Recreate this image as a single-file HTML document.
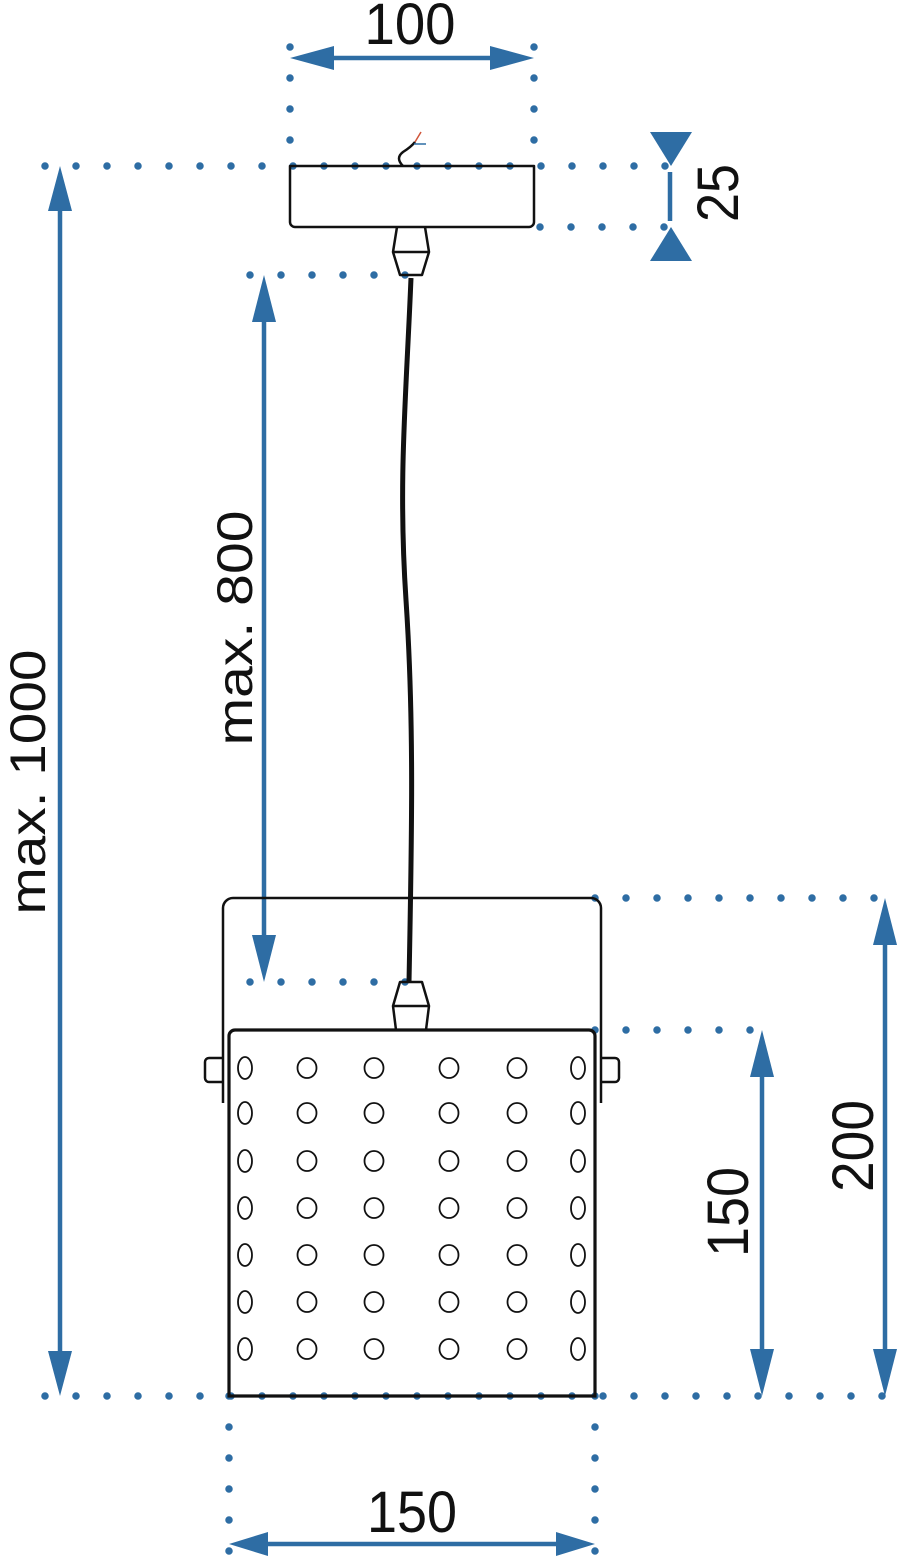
<!DOCTYPE html>
<html><head><meta charset="utf-8"><style>html,body{margin:0;padding:0;background:#fff}svg{display:block}</style></head>
<body>
<svg width="900" height="1568" viewBox="0 0 900 1568" xmlns="http://www.w3.org/2000/svg" font-family="Liberation Sans, sans-serif">
<defs>
<g id="h"><ellipse rx="9.5" ry="10" fill="none" stroke="#111" stroke-width="1.8"/></g>
<g id="e"><ellipse rx="7" ry="11" fill="none" stroke="#111" stroke-width="1.8"/></g>
</defs>
<g stroke="#2e6da4" stroke-width="7.5" stroke-linecap="round" stroke-dasharray="0 31" fill="none">
<line x1="290" y1="47" x2="290" y2="166"/>
<line x1="534" y1="47" x2="534" y2="166"/>
<line x1="45" y1="166" x2="670" y2="166"/>
<line x1="540" y1="227" x2="670" y2="227"/>
<line x1="250" y1="275" x2="411" y2="275"/>
<line x1="250" y1="982" x2="411" y2="982"/>
<line x1="595" y1="898" x2="890" y2="898"/>
<line x1="595" y1="1030" x2="770" y2="1030"/>
<line x1="45" y1="1396" x2="890" y2="1396"/>
<line x1="229" y1="1396" x2="229" y2="1568"/>
<line x1="595" y1="1396" x2="595" y2="1568"/>
</g>
<g stroke="#2e6da4" stroke-width="4.5" fill="#2e6da4">
<line x1="320" y1="58" x2="505" y2="58"/>
<polygon points="290,58 334,46 334,70" stroke="none"/>
<polygon points="534,58 490,46 490,70" stroke="none"/>
<line x1="258" y1="1544" x2="565" y2="1544"/>
<polygon points="229,1544 268,1532 268,1556" stroke="none"/>
<polygon points="595,1544 556,1532 556,1556" stroke="none"/>
<line x1="670" y1="172" x2="670" y2="221"/>
<polygon points="650,132 692,132 671,166" stroke="none"/>
<polygon points="650,261 692,261 671,227" stroke="none"/>
<line x1="60" y1="200" x2="60" y2="1362"/>
<polygon points="60,166 48,211 72,211" stroke="none"/>
<polygon points="60,1396 48,1351 72,1351" stroke="none"/>
<line x1="264" y1="305" x2="264" y2="950"/>
<polygon points="264,275 252,322 276,322" stroke="none"/>
<polygon points="264,982 252,935 276,935" stroke="none"/>
<line x1="885" y1="930" x2="885" y2="1365"/>
<polygon points="885,898 873,945 897,945" stroke="none"/>
<polygon points="885,1396 873,1349 897,1349" stroke="none"/>
<line x1="762" y1="1060" x2="762" y2="1365"/>
<polygon points="762,1030 750,1077 774,1077" stroke="none"/>
<polygon points="762,1396 750,1349 774,1349" stroke="none"/>
</g>
<g fill="#111" font-size="58">
<text x="410" y="44" text-anchor="middle" textLength="91" lengthAdjust="spacingAndGlyphs">100</text>
<text x="412" y="1532" text-anchor="middle" textLength="90" lengthAdjust="spacingAndGlyphs">150</text>
<text transform="translate(738,193) rotate(-90)" text-anchor="middle" textLength="58" lengthAdjust="spacingAndGlyphs">25</text>
<text transform="translate(873,1146) rotate(-90)" text-anchor="middle" textLength="92" lengthAdjust="spacingAndGlyphs">200</text>
<text transform="translate(748,1212) rotate(-90)" text-anchor="middle" textLength="90" lengthAdjust="spacingAndGlyphs">150</text>
<text font-size="50" transform="translate(45,782) rotate(-90)" text-anchor="middle" textLength="265" lengthAdjust="spacingAndGlyphs">max. 1000</text>
<text font-size="50" transform="translate(252,628) rotate(-90)" text-anchor="middle" textLength="235" lengthAdjust="spacingAndGlyphs">max. 800</text>
</g>
<g fill="none" stroke="#111" stroke-width="2.5" stroke-linejoin="round">
<path d="M290,166 H534 V222 a5,5 0 0 1 -5,5 H295 a5,5 0 0 1 -5,-5 Z"/>
<path d="M403,166 q-8,-8 0,-14 q8,-5 12,-10"/>
<path d="M397,227 L393,252 L400,275 H422 L429,252 L425,227 M393,252 H429"/>
<path d="M396,1030 L393,1006 L400,982 H422 L429,1006 L426,1030 M393,1006 H429"/>
<path d="M223,1103 V908 a10,10 0 0 1 10,-10 H591 a10,10 0 0 1 10,10 V1103"/>
<path d="M223,1058 H209 a4,4 0 0 0 -4,4 V1078 a4,4 0 0 0 4,4 H223"/>
<path d="M601,1058 H615 a4,4 0 0 1 4,4 V1078 a4,4 0 0 1 -4,4 H601"/>
</g>
<path d="M415,142 l6,-10" stroke="#d0553a" stroke-width="1.5"/>
<path d="M414,144 h12" stroke="#2e6da4" stroke-width="1.5"/>
<path d="M411,278 C406,400 398,480 406,600 C414,720 412,830 409,982" fill="none" stroke="#111" stroke-width="5"/>
<path d="M229,1396 V1036 a6,6 0 0 1 6,-6 H589 a6,6 0 0 1 6,6 V1396 Z" fill="none" stroke="#111" stroke-width="3.2"/>
<g>
<use href="#e" x="245" y="1068"/><use href="#h" x="307" y="1068"/><use href="#h" x="374" y="1068"/><use href="#h" x="449" y="1068"/><use href="#h" x="517" y="1068"/><use href="#e" x="578" y="1068"/>
<use href="#e" x="245" y="1113"/><use href="#h" x="307" y="1113"/><use href="#h" x="374" y="1113"/><use href="#h" x="449" y="1113"/><use href="#h" x="517" y="1113"/><use href="#e" x="578" y="1113"/>
<use href="#e" x="245" y="1161"/><use href="#h" x="307" y="1161"/><use href="#h" x="374" y="1161"/><use href="#h" x="449" y="1161"/><use href="#h" x="517" y="1161"/><use href="#e" x="578" y="1161"/>
<use href="#e" x="245" y="1208"/><use href="#h" x="307" y="1208"/><use href="#h" x="374" y="1208"/><use href="#h" x="449" y="1208"/><use href="#h" x="517" y="1208"/><use href="#e" x="578" y="1208"/>
<use href="#e" x="245" y="1255"/><use href="#h" x="307" y="1255"/><use href="#h" x="374" y="1255"/><use href="#h" x="449" y="1255"/><use href="#h" x="517" y="1255"/><use href="#e" x="578" y="1255"/>
<use href="#e" x="245" y="1302"/><use href="#h" x="307" y="1302"/><use href="#h" x="374" y="1302"/><use href="#h" x="449" y="1302"/><use href="#h" x="517" y="1302"/><use href="#e" x="578" y="1302"/>
<use href="#e" x="245" y="1349"/><use href="#h" x="307" y="1349"/><use href="#h" x="374" y="1349"/><use href="#h" x="449" y="1349"/><use href="#h" x="517" y="1349"/><use href="#e" x="578" y="1349"/>
</g>
</svg>
</body></html>
